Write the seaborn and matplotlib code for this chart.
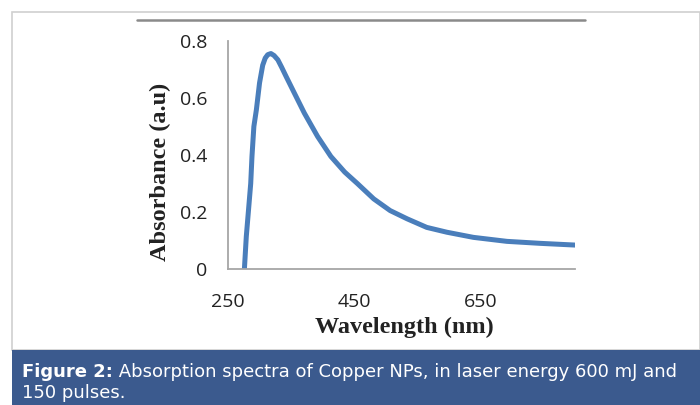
import matplotlib
matplotlib.use("Agg")
import matplotlib.pyplot as plt
import seaborn as sns
import pandas as pd
from matplotlib.patches import Rectangle
from matplotlib.lines import Line2D

# values
wavelength = [276, 279, 283, 286, 288, 291, 295, 300, 305, 309, 313, 318, 323,
              329, 335, 342, 355, 371, 392, 413, 435, 455, 481, 507, 534, 565,
              597, 639, 692, 745, 800]
absorbance = [0.0, 0.114, 0.22, 0.30, 0.395, 0.50, 0.559, 0.653, 0.715, 0.740,
              0.752, 0.756, 0.749, 0.734, 0.708, 0.676, 0.618, 0.547, 0.465,
              0.395, 0.34, 0.30, 0.246, 0.205, 0.176, 0.146, 0.129, 0.111, 0.097,
              0.090, 0.084]
x_ticks = [250, 450, 650]
y_ticks = [0, 0.2, 0.4, 0.6, 0.8]
y_tick_labels = ["0", "0.2", "0.4", "0.6", "0.8"]
caption_bold = "Figure 2:"
caption_rest = " Absorption spectra of Copper NPs, in laser energy 600 mJ and"
caption_line2 = "150 pulses."

sns.set_style("white")
plt.rcParams["font.family"] = ["Open Sans", "DejaVu Sans"]

df = pd.DataFrame({"Wavelength": wavelength, "Absorbance": absorbance})

fig = plt.figure(figsize=(7, 4.05), dpi=100)
W, H = 700, 405

def fx(px):
    return px / W

def fy(py):
    return 1 - py / H

# outer light border, top rule and caption band
fig.patches.append(Rectangle((fx(12), fy(350)), fx(700) - fx(12), fy(12) - fy(350),
                             transform=fig.transFigure, fill=False,
                             edgecolor="#d0d0d0", linewidth=1.2))
fig.lines.append(Line2D([fx(137), fx(585)], [fy(19.5), fy(19.5)],
                        transform=fig.transFigure, color="#8a8a8a", linewidth=1.8))
fig.patches.append(Rectangle((fx(12), 0), 1 - fx(12), fy(350),
                             transform=fig.transFigure, facecolor="#3b5a8e",
                             edgecolor="none"))

ax = fig.add_axes([fx(228), fy(269), fx(575) - fx(228), fy(41) - fy(269)])
sns.lineplot(data=df, x="Wavelength", y="Absorbance", ax=ax, color="#4a7ebb",
             linewidth=3.6, sort=False)
ax.lines[0].set_solid_joinstyle("round")
ax.lines[0].set_solid_capstyle("round")

ax.set_xlim(250, 800)
ax.set_ylim(0, 0.8)
ax.set_xticks(x_ticks)
ax.set_xticklabels([str(t) for t in x_ticks])
ax.set_yticks(y_ticks)
ax.set_yticklabels(y_tick_labels)
for s in ["top", "right"]:
    ax.spines[s].set_visible(False)
for s in ["left", "bottom"]:
    ax.spines[s].set_color("#a6a6a6")
    ax.spines[s].set_linewidth(1.3)
ax.tick_params(axis="both", direction="out", length=5, width=1.3, color="#a6a6a6",
               labelsize=14, labelcolor="#222222", pad=10)
ax.tick_params(axis="x", pad=12)

ax.set_xlabel("Wavelength (nm)", family="Liberation Serif", fontweight="bold",
              fontsize=17.5, color="#222222", va="center")
ax.set_ylabel("Absorbance (a.u)", family="Liberation Serif", fontweight="bold",
              fontsize=17.5, color="#222222", va="center")
ax.xaxis.set_label_coords((404 - 228) / 347, (269 - 327) / 228)
ax.yaxis.set_label_coords((160 - 228) / 347, (269 - 172) / 228)

t1 = fig.text(fx(22), fy(372), caption_bold, color="white", fontweight="bold",
              fontsize=13, family=["DejaVu Sans"], va="center")
fig.canvas.draw()
bb = t1.get_window_extent()
fig.text(bb.x1 / W, fy(372), caption_rest, color="white", fontsize=13,
         family=["DejaVu Sans"], va="center")
fig.text(fx(22), fy(393), caption_line2, color="white", fontsize=13,
         family=["DejaVu Sans"], va="center")

fig.savefig("out.png", dpi=100)
